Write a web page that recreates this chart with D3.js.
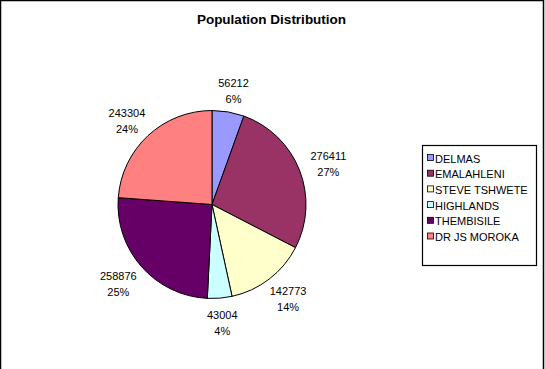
<!DOCTYPE html>
<html><head><meta charset="utf-8">
<script src="https://cdn.jsdelivr.net/npm/d3@7"></script>
<style>body{margin:0;background:#fff}svg{display:block}text{font-family:"Liberation Sans",Arial,sans-serif}</style>
</head><body><svg id="c" width="545" height="369"></svg>
<script>
const categories = ["DELMAS","EMALAHLENI","STEVE TSHWETE","HIGHLANDS","THEMBISILE","DR JS MOROKA"];
const values = [56212,276411,142773,43004,258876,243304];
const percentLabels = ["6%","27%","14%","4%","25%","24%"];
const colors = ["#9999FF","#993366","#FFFFCC","#CCFFFF","#660066","#FF8080"];
const title = "Population Distribution";

const svg = d3.select("#c");
svg.append("rect").attr("x",0.5).attr("y",0.5).attr("width",543).attr("height",380)
  .attr("fill","#fff").attr("stroke","#000").attr("stroke-width",1.5);
svg.append("text").attr("x",271.5).attr("y",24).attr("text-anchor","middle")
  .attr("font-size","13.5px").attr("font-weight","bold").text(title);

const cx=212, cy=204.5, r=94;
const data = categories.map((c,i)=>({c,v:values[i],p:percentLabels[i],col:colors[i]}));
const pie = d3.pie().value(d=>d.v).sort(null);
const arc = d3.arc().innerRadius(0).outerRadius(r);
const g = svg.append("g").attr("transform",`translate(${cx},${cy})`);
const arcs = pie(data);
g.selectAll("path").data(arcs).join("path").attr("d",arc)
  .attr("fill",d=>d.data.col).attr("stroke","#000").attr("stroke-width",1);

const lw=46, lh=30, gap=8;
arcs.forEach(a=>{
  const m=(a.startAngle+a.endAngle)/2;
  const ux=Math.sin(m), uy=-Math.cos(m);
  const px=ux*(r+gap)+ux*lw/2, py=uy*(r+gap)+uy*lh/2;
  const t=g.append("text").attr("text-anchor","middle").attr("font-size","11px").attr("fill","#000");
  t.append("tspan").attr("x",px).attr("y",py-2).text(a.data.v);
  t.append("tspan").attr("x",px).attr("y",py+14).text(a.data.p);
});

const lx=422, ly=145, lwid=114, lhgt=120;
svg.append("rect").attr("x",lx+0.5).attr("y",ly+0.5).attr("width",lwid).attr("height",lhgt)
  .attr("fill","#fff").attr("stroke","#000").attr("stroke-width",1.2);
const ys = d3.scalePoint().domain(categories).range([ly+14,ly+92.5]);
const lg = svg.append("g");
categories.forEach((c,i)=>{
  const y=ys(c);
  lg.append("rect").attr("x",lx+5.5).attr("y",y-4.5).attr("width",6).attr("height",6)
    .attr("fill",colors[i]).attr("stroke","#000").attr("stroke-width",0.8);
  lg.append("text").attr("x",lx+13).attr("y",y+3.5).attr("font-size","11px").text(c);
});
</script></body></html>
